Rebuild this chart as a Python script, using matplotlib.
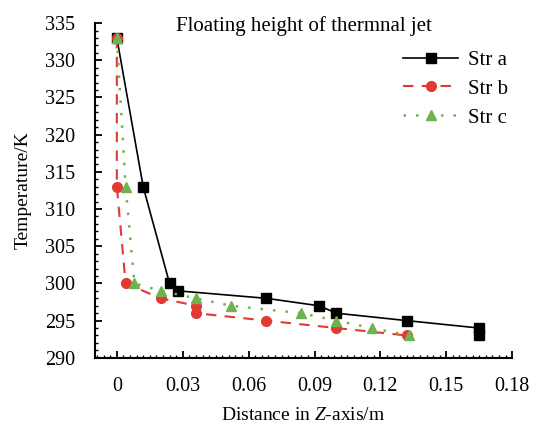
import matplotlib
matplotlib.use("Agg")
import matplotlib.pyplot as plt
from matplotlib.ticker import MultipleLocator, FuncFormatter

plt.rcParams.update({
    "font.family": ["Liberation Serif", "DejaVu Serif"],
    "mathtext.fontset": "custom",
    "mathtext.it": "Liberation Serif:italic",
    "mathtext.rm": "Liberation Serif",
})

# Str a
za = [0.0, 0.012, 0.024, 0.028, 0.068, 0.092, 0.100, 0.132, 0.165, 0.165]
ta = [333, 313, 300, 299, 298, 297, 296, 295, 294, 293]
# Str b
zb = [0.0, 0.0, 0.004, 0.020, 0.036, 0.036, 0.068, 0.100, 0.132]
tb = [333, 313, 300, 298, 297, 296, 295, 294, 293]
# Str c
zc = [0.0, 0.004, 0.008, 0.020, 0.036, 0.052, 0.084, 0.100, 0.116, 0.133]
tc = [333, 313, 300, 299, 298, 297, 296, 295, 294, 293]

fig = plt.figure(figsize=(5.33, 4.28), dpi=100)
ax = fig.add_axes([0.178, 0.164, 0.783, 0.782])

ax.plot(za, ta, color="black", lw=1.2, ls="-", marker="s", ms=6.5, label="Str a")
ax.plot(zb, tb, color="#e03a33", lw=1.5, ls=(0, (5, 4)), marker="o", ms=7,
        label="Str b")
ax.plot(zc, tc, color="#6fb24f", lw=1.8, ls=(0, (1, 4)), marker="^", ms=7.5,
        label="Str c")

ax.set_xlim(-0.01, 0.18)
ax.set_ylim(290, 335)
ax.xaxis.set_major_locator(MultipleLocator(0.03))
ax.xaxis.set_minor_locator(MultipleLocator(0.003))
ax.yaxis.set_major_locator(MultipleLocator(5))
ax.yaxis.set_minor_locator(MultipleLocator(1))
ax.xaxis.set_major_formatter(FuncFormatter(lambda v, p: "0" if abs(v) < 1e-9 else f"{v:.2f}"))

for s in ("top", "right"):
    ax.spines[s].set_visible(False)
for s in ("left", "bottom"):
    ax.spines[s].set_linewidth(1.5)
ax.tick_params(which="major", direction="in", length=5, width=1.3, labelsize=14.5, pad=14)
ax.tick_params(which="minor", direction="in", length=2.5, width=1.0)

ax.set_xlabel("Distance in $\\mathit{Z}$-axis/m", fontsize=14, labelpad=8)
ax.set_ylabel("Temperature/K", fontsize=14, labelpad=10)
ax.text(0.5, 1.02, "Floating height of thermnal jet", transform=ax.transAxes,
        ha="center", va="top", fontsize=15)

ax.legend(loc="upper right", bbox_to_anchor=(1.035, 0.975), frameon=False,
          fontsize=15, handlelength=2.6, labelspacing=0.45, handletextpad=0.5)

fig.savefig("out.png", dpi=100)
